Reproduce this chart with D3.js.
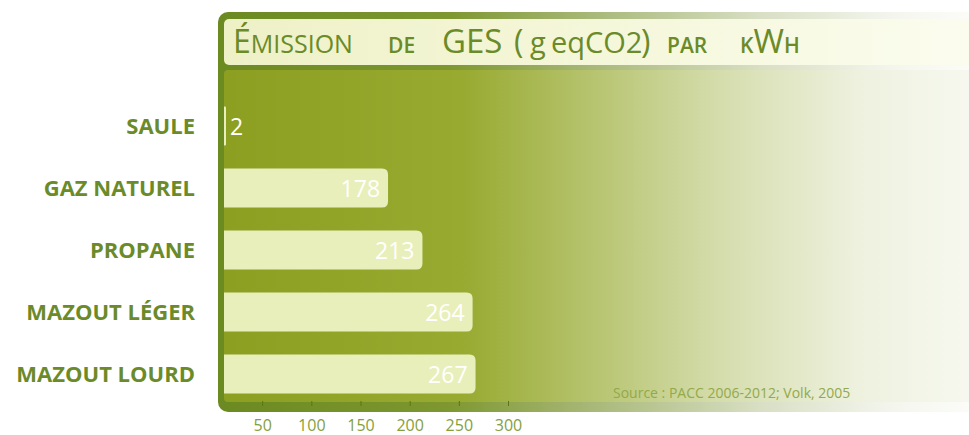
<!DOCTYPE html>
<html>
<head>
<meta charset="utf-8">
<script src="https://cdn.jsdelivr.net/npm/d3@7"></script>
<style>
  body { margin: 0; background: #fff; }
  svg { display: block; }
</style>
</head>
<body>
<svg id="chart" width="969" height="435"></svg>
<script>
// data
const categories = ["SAULE", "GAZ NATUREL", "PROPANE", "MAZOUT LÉGER", "MAZOUT LOURD"];
const values = [2, 178, 213, 264, 267];
const tickValues = [50, 100, 150, 200, 250, 300];
const source = "Source : PACC 2006-2012; Volk, 2005";

const width = 969, height = 435;
const panel = { left: 218, top: 12, border: 6, bottom: 412 };
const inner = panel.left + panel.border;

const svg = d3.select("#chart");
svg.selectAll("*").remove(); //cleanup

const x = d3.scaleLinear().domain([0, 300]).range([213, 508]);
const y = d3.scaleBand()
  .domain(categories)
  .range([95, 405])
  .paddingInner(0.37)
  .paddingOuter(0.185);

const defs = svg.append("defs");
function grad(id, stops) {
  const g = defs.append("linearGradient")
    .attr("id", id)
    .attr("gradientUnits", "userSpaceOnUse")
    .attr("x1", inner).attr("x2", width).attr("y1", 0).attr("y2", 0);
  stops.forEach(s => g.append("stop").attr("offset", s[0]).attr("stop-color", s[1]));
}
grad("fillGrad", [[0, "#8c9f21"], [0.32, "#98aa30"], [0.47, "#b2c066"], [0.66, "#d4dcab"], [0.85, "#eef1de"], [1, "#f6f8ef"]]);
grad("frameGrad", [[0, "#6c8a22"], [0.3, "#7e9730"], [0.5, "#a9b97a"], [0.72, "#d8dfc4"], [0.9, "#f4f6ee"], [1, "#fbfcf8"]]);
grad("titleGrad", [[0, "#eef1c6"], [0.5, "#f5f7da"], [1, "#fbfcee"]]);

// panel frame + fill
svg.append("rect")
  .attr("x", panel.left).attr("y", panel.top)
  .attr("width", 900).attr("height", panel.bottom - panel.top)
  .attr("rx", 10)
  .attr("fill", "url(#frameGrad)");

svg.append("rect")
  .attr("x", inner).attr("y", 70)
  .attr("width", 900).attr("height", 402 - 70)
  .attr("rx", 4)
  .attr("fill", "url(#fillGrad)");

svg.append("rect")
  .attr("x", inner).attr("y", 19)
  .attr("width", 900).attr("height", 46)
  .attr("rx", 5)
  .attr("fill", "url(#titleGrad)");

// title (small caps by hand)
const titleColor = "#6b8a28";
const title = svg.append("text")
  .attr("y", 53)
  .attr("fill", titleColor)
  .style("font-family", "'Open Sans', sans-serif")
  .style("font-weight", 500);
const parts = [
  { t: "É", x: 233, s: 32 },
  { t: "MISSION", s: 25 },
  { t: "DE", x: 388, s: 21, w: 600 },
  { t: "GES", x: 442, s: 33 },
  { t: "(", x: 514, s: 32 },
  { t: "g", x: 530, s: 29 },
  { t: "eqCO2", x: 551, s: 29 },
  { t: ")", x: 641, s: 32 },
  { t: "PAR", x: 667, s: 21, w: 600 },
  { t: "K", x: 740, s: 21, w: 600 },
  { t: "W", s: 33 },
  { t: "H", s: 21, w: 600 }
];
parts.forEach(p => {
  const ts = title.append("tspan").text(p.t).style("font-size", p.s + "px");
  if (p.x !== undefined) ts.attr("x", p.x);
  if (p.w) ts.style("font-weight", p.w);
});

// bars
function barPath(x0, y0, w, h, r) {
  r = Math.min(r, w / 2);
  return `M${x0},${y0}H${x0 + w - r}Q${x0 + w},${y0} ${x0 + w},${y0 + r}` +
    `V${y0 + h - r}Q${x0 + w},${y0 + h} ${x0 + w - r},${y0 + h}H${x0}Z`;
}

svg.append("g")
  .selectAll("path")
  .data(values)
  .enter()
  .append("path")
  .attr("d", (d, i) => barPath(inner, y(categories[i]), Math.max(2, x(d) - inner), y.bandwidth(), 6))
  .attr("fill", "#e9efbb");

// value labels
svg.append("g")
  .selectAll("text")
  .data(values)
  .enter()
  .append("text")
  .attr("x", d => (x(d) - inner < 40 ? inner + 6 : x(d) - 8))
  .attr("y", (d, i) => y(categories[i]) + y.bandwidth() / 2 + 9)
  .attr("text-anchor", d => (x(d) - inner < 40 ? "start" : "end"))
  .attr("fill", "#ffffff")
  .style("font-family", "'Open Sans', sans-serif")
  .style("font-size", "23px")
  .text(d => d);

// category labels
svg.append("g")
  .selectAll("text")
  .data(categories)
  .enter()
  .append("text")
  .attr("x", 195)
  .attr("y", d => y(d) + y.bandwidth() / 2 + 8)
  .attr("text-anchor", "end")
  .attr("fill", "#6b8b2a")
  .style("font-family", "'Open Sans', sans-serif")
  .style("font-weight", 700)
  .style("font-size", "22px")
  .text(d => d);

// axis
const axis = svg.append("g")
  .attr("class", "axis axis--x")
  .attr("transform", "translate(0, 401)")
  .call(d3.axisBottom(x).tickValues(tickValues).tickSize(5).tickPadding(14));
axis.select(".domain").remove();
axis.selectAll("line").attr("stroke", "#587618");
axis.selectAll("text")
  .attr("fill", "#85a03c")
  .style("font-family", "'Open Sans', sans-serif")
  .style("font-size", "16px");

// source
svg.append("text")
  .attr("x", 613)
  .attr("y", 398)
  .attr("fill", "#93a94a")
  .style("font-family", "'Open Sans', sans-serif")
  .style("font-size", "14px")
  .text(source);
</script>
</body>
</html>
